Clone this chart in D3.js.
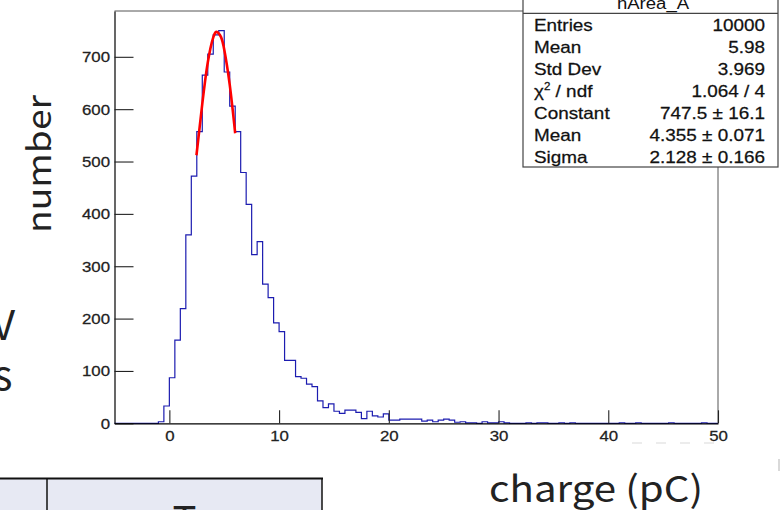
<!DOCTYPE html>
<html><head><meta charset="utf-8">
<script src="https://cdn.jsdelivr.net/npm/d3@7"></script>
<style>
html,body{margin:0;padding:0;background:#fff;overflow:hidden}
svg{display:block}
</style></head>
<body>
<svg id="c" width="780" height="510"></svg>
<script>
// ---- data ----
const histTitle = "hArea_A";
const binStart = -5, binWidth = 0.5;          // bin layout of the histogram
const counts = [
  0,0,0,0,0,0,0,0,3,33,
  87,159,219,360,472,557,665,705,742,750,
  671,606,557,479,418,322,347,266,240,192,
  175,120,120,89,86,75,70,43,30,37,
  23,19,25,25,21,9,23,14,12,18,
  6,6,8,8,8,8,4,6,3,6,
  8,6,2,3,1,1,0,3,1,1,
  3,1,0,0,0,1,0,1,1,0,
  0,1,0,1,0,0,0,0,0,0,
  0,0,1,0,0,1,0,0,0,0,
  0,1,0,0,0,0,0,1,0,0
];
const fitX = [2.47, 3.0, 3.5, 4.0, 4.35, 4.7, 5.0, 5.5, 6.0];
const fitY = [512, 610, 689, 737, 747.5, 738, 714, 647, 554];
const xMajorTicks = [0, 10, 20, 30, 40, 50];
const xMinorTicks = [-4,-2,0,2,4,6,8,10,12,14,16,18,20,22,24,26,28,30,32,34,36,38,40,42,44,46,48,50];
const yMajorTicks = [0,100,200,300,400,500,600,700];
const yMinorTicks = [0,20,40,60,80,100,120,140,160,180,200,220,240,260,280,300,320,340,360,380,400,420,440,460,480,500,520,540,560,580,600,620,640,660,680,700,720,740,760,780];
const statLabels = ["Entries","Mean","Std Dev","CHI","Constant","Mean","Sigma"];
const statValues = ["10000","5.98","3.969","1.064 / 4","747.5 \u00b1 16.1","4.355 \u00b1 0.071","2.128 \u00b1 0.166"];
const xTitle = "charge (pC)";
const yTitle = "number";

// ---- drawing ----
const svg = d3.select("#c");
const x = d3.scaleLinear().domain([-5, 50]).range([114.5, 718]);
const y = d3.scaleLinear().domain([0, 787.5]).range([423.3, 11]);
const SX = 1.16;  // horizontal stretch of the ROOT text in the picture
const rootFont = "'Liberation Sans', Arial, Helvetica, sans-serif";
const slideFont = "'Noto Sans CJK JP', 'Noto Sans', sans-serif";

// slide fragments (left side & bottom table)
svg.append("text").attr("x", 15).attr("y", 340).attr("text-anchor","end")
  .attr("font-family", slideFont).attr("font-size", 41).attr("fill","#222").text("V");
svg.append("text").attr("x", 12.5).attr("y", 390).attr("text-anchor","end")
  .attr("font-family", slideFont).attr("font-size", 41).attr("fill","#222").text("s");
svg.append("rect").attr("x",0).attr("y",478.5).attr("width",322).attr("height",40).attr("fill","#e7e9f3");
svg.append("line").attr("x1",0).attr("x2",323).attr("y1",478.5).attr("y2",478.5).attr("stroke","#111").attr("stroke-width",2);
svg.append("line").attr("x1",47).attr("x2",47).attr("y1",478).attr("y2",510).attr("stroke","#111").attr("stroke-width",1.5);
svg.append("line").attr("x1",322).attr("x2",322).attr("y1",478).attr("y2",510).attr("stroke","#111").attr("stroke-width",1.5);
svg.append("text").attr("x", 184.5).attr("y", 535).attr("text-anchor","middle")
  .attr("font-family", slideFont).attr("font-size", 40).attr("fill","#222").text("T");

// axis titles (slide text)
svg.append("text")
  .attr("transform", "translate(51,164) rotate(-90)")
  .attr("text-anchor","middle")
  .attr("font-family", slideFont).attr("font-size", 33).attr("fill","#222")
  .attr("textLength", 138).attr("lengthAdjust","spacingAndGlyphs")
  .text(yTitle);
svg.append("text")
  .attr("x", 596).attr("y", 502).attr("text-anchor","middle")
  .attr("font-family", slideFont).attr("font-size", 36).attr("fill","#222")
  .attr("textLength", 214).attr("lengthAdjust","spacingAndGlyphs")
  .text(xTitle);

// histogram
const pts = counts.map((c, i) => [binStart + i * binWidth, c]);
pts.push([binStart + counts.length * binWidth, counts[counts.length - 1]]);
const hline = d3.line().x(d => x(d[0])).y(d => y(d[1])).curve(d3.curveStepAfter);
svg.append("path").attr("d", hline(pts)).attr("fill","none")
  .attr("stroke","#1c1cb0").attr("stroke-width",1.2);

// fit
const fpts = fitX.map((v, i) => [v, fitY[i]]);
const fline = d3.line().x(d => x(d[0])).y(d => y(d[1])).curve(d3.curveNatural);
svg.append("path").attr("d", fline(fpts)).attr("fill","none")
  .attr("stroke","#ff0000").attr("stroke-width",2.6);

// frame (top/right)
svg.append("line").attr("x1", x(-5)).attr("x2", x(50)).attr("y1", y(787.5)).attr("y2", y(787.5))
  .attr("stroke","#555").attr("stroke-width",1);
svg.append("line").attr("x1", x(50)).attr("x2", x(50)).attr("y1", y(787.5)).attr("y2", y(0))
  .attr("stroke","#555").attr("stroke-width",1);

// axes
const gy = svg.append("g").attr("transform", `translate(${x(-5)},0)`);
gy.call(d3.axisLeft(y).tickValues(yMinorTicks).tickSizeInner(-10).tickSizeOuter(0).tickFormat(""));
gy.call(d3.axisLeft(y).tickValues(yMajorTicks).tickSizeInner(-19).tickSizeOuter(0).tickPadding(4.5).tickFormat(d3.format("d")));
const gx = svg.append("g").attr("transform", `translate(0,${y(0)})`);
gx.call(d3.axisBottom(x).tickValues(xMinorTicks).tickSizeInner(-7).tickSizeOuter(0).tickFormat(""));
gx.call(d3.axisBottom(x).tickValues(xMajorTicks).tickSizeInner(-13).tickSizeOuter(0).tickPadding(7).tickFormat(d3.format("d")));
svg.selectAll(".domain").attr("stroke","#000").attr("stroke-width",1.2);
svg.selectAll(".tick line").attr("stroke","#222").attr("stroke-width",1.1);

gy.selectAll(".tick text").each(function() {
  d3.select(this).attr("x", 0).attr("dy", null).attr("y", 5)
    .attr("transform", `translate(-4.5,0) scale(${SX},1)`)
    .attr("font-family", rootFont).attr("font-size", 14.5).attr("fill","#222")
    .attr("stroke","#222").attr("stroke-width",0.25);
});
gx.selectAll(".tick text").each(function() {
  d3.select(this).attr("dy", null).attr("y", 0)
    .attr("transform", `translate(0,18) scale(${SX},1)`)
    .attr("font-family", rootFont).attr("font-size", 14.5).attr("fill","#222")
    .attr("stroke","#222").attr("stroke-width",0.25);
});

// faint artifacts
svg.append("line").attr("x1",632).attr("x2",718).attr("y1",443).attr("y2",443)
  .attr("stroke","#e6e6e6").attr("stroke-width",1.5).attr("stroke-dasharray","10,14");
svg.append("line").attr("x1",779).attr("x2",779).attr("y1",459).attr("y2",471)
  .attr("stroke","#ccc").attr("stroke-width",1.5);

// stats box
const bx0 = 523, bx1 = 778, by0 = -2, by1 = 167, sep = 13.3;
svg.append("rect").attr("x", bx0).attr("y", by0).attr("width", bx1 - bx0).attr("height", by1 - by0)
  .attr("fill","#fff").attr("stroke","#444").attr("stroke-width",1.2);
svg.append("line").attr("x1", bx0).attr("x2", bx1).attr("y1", sep).attr("y2", sep)
  .attr("stroke","#444").attr("stroke-width",1.2);
svg.append("text").attr("transform", `translate(653,8.5) scale(${SX},1)`).attr("text-anchor","middle")
  .attr("font-family", rootFont).attr("font-size", 16).attr("fill","#111").text(histTitle);

statLabels.forEach((lab, i) => {
  const by = 30.7 + i * 22.1;
  const t = svg.append("text").attr("transform", `translate(534,${by}) scale(${SX},1)`)
    .attr("font-family", rootFont).attr("font-size", 16.3).attr("fill","#111")
    .attr("stroke","#111").attr("stroke-width",0.25);
  if (lab === "CHI") {
    t.append("tspan").text("\u03c7");
    t.append("tspan").attr("font-size", 10).attr("dy", -7).text("2");
    t.append("tspan").attr("dy", 7).text(" / ndf");
  } else {
    t.text(lab);
  }
  svg.append("text").attr("transform", `translate(765,${by}) scale(${SX},1)`).attr("text-anchor","end")
    .attr("font-family", rootFont).attr("font-size", 16.3).attr("fill","#111")
    .attr("stroke","#111").attr("stroke-width",0.25).text(statValues[i]);
});
</script>
</body></html>
